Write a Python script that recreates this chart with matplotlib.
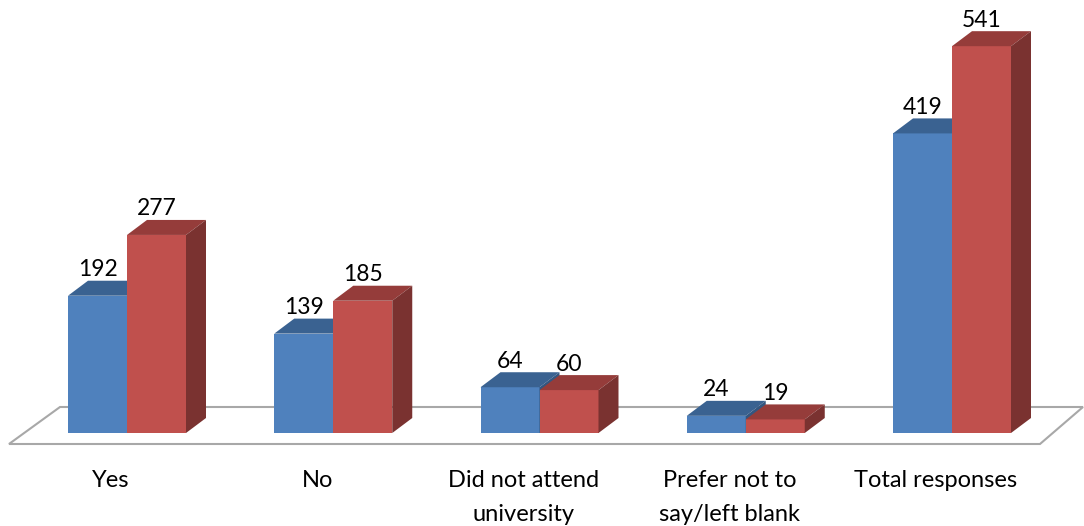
import matplotlib
matplotlib.use('Agg')
import matplotlib.pyplot as plt
from matplotlib.patches import Polygon

plt.rcParams['font.family'] = ['Lato', 'DejaVu Sans']

categories = ['Yes', 'No', 'Did not attend\nuniversity', 'Prefer not to\nsay/left blank', 'Total responses']
blue_values = [192, 139, 64, 24, 419]
red_values = [277, 185, 60, 19, 541]

# figure is 1084x526, axes fill it so units stay easy to reason about
px_per_val = 0.715
px_per_cat = 206.25
W, H = 1084, 526
base_px = 433
first_px = 127

fig = plt.figure(figsize=(W / 100, H / 100), dpi=100)
ax = fig.add_axes([0, 0, 1, 1])
ax.set_xlim(-first_px / px_per_cat, (W - first_px) / px_per_cat)
ax.set_ylim((base_px - H) / px_per_val, base_px / px_per_val)
ax.axis('off')

bar_w = 59 / px_per_cat
dx = 20 / px_per_cat
dy = 15 / px_per_val
label_off = 26 / px_per_val


def bar3d(x, v, front, top, side, z):
    ax.add_patch(Polygon([(x, 0), (x + bar_w, 0), (x + bar_w, v), (x, v)], fc=front, ec='none', zorder=z))
    ax.add_patch(Polygon([(x, v), (x + bar_w, v), (x + bar_w + dx, v + dy), (x + dx, v + dy)], fc=top, ec='none', zorder=z))
    ax.add_patch(Polygon([(x + bar_w, 0), (x + bar_w + dx, dy), (x + bar_w + dx, v + dy), (x + bar_w, v)], fc=side, ec='none', zorder=z))


# floor
fx = lambda p: (p - first_px) / px_per_cat
fy = lambda p: (base_px - p) / px_per_val
ax.add_patch(Polygon([(fx(9), fy(444)), (fx(60), fy(407)), (fx(1083), fy(407)), (fx(1040), fy(444))],
                     fc='white', ec='#a8a8a8', lw=1.5, zorder=1))

for i, cat in enumerate(categories):
    bar3d(i - bar_w, blue_values[i], '#4f81bd', '#3a6291', '#335680', 2)
    bar3d(i, red_values[i], '#c0504d', '#953c3a', '#7a3230', 3)
    ax.text(i - 0.5 * bar_w, blue_values[i] + label_off, str(blue_values[i]),
            ha='center', va='center', fontsize=16.5, color='black', zorder=5)
    ax.text(i + 0.5 * bar_w, red_values[i] + label_off, str(red_values[i]),
            ha='center', va='center', fontsize=16.5, color='black', zorder=5)
    ax.text(i - 16 / px_per_cat, fy(470), cat, ha='center', va='top', fontsize=17,
            color='black', linespacing=1.78)

fig.savefig('out.png', dpi=100)
